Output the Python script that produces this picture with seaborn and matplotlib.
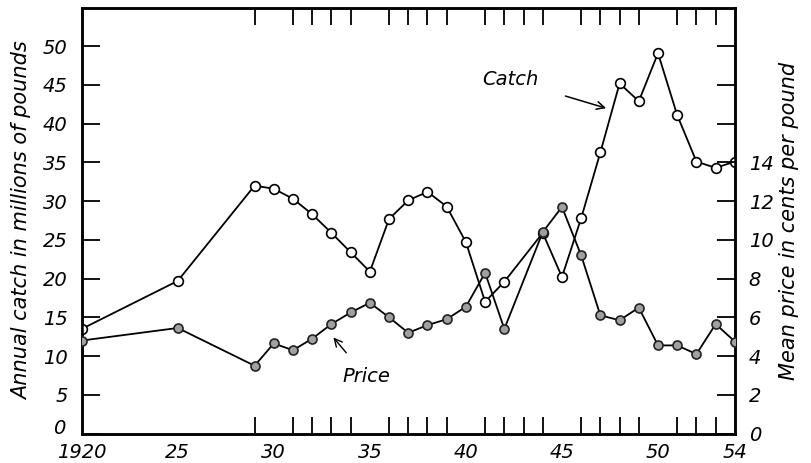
import matplotlib.pyplot as plt
import matplotlib.transforms as mtransforms
import numpy as np
import pandas as pd
import seaborn as sns

# years (no 1943 record, 1921-24 and 1926-28 missing)
years = [1920, 1925, 1929, 1930, 1931, 1932, 1933, 1934, 1935, 1936, 1937, 1938,
         1939, 1940, 1941, 1942, 1944, 1945, 1946, 1947, 1948, 1949, 1950, 1951,
         1952, 1953, 1954]
catch = [13.5, 19.7, 32.0, 31.6, 30.3, 28.3, 25.9, 23.4, 20.9, 27.7, 30.1, 31.2,
         29.3, 24.7, 17.0, 19.6, 25.9, 20.2, 27.8, 36.3, 45.2, 42.9, 49.1, 41.1,
         35.1, 34.3, 35.1]
price = [4.8, 5.45, 3.5, 4.65, 4.3, 4.9, 5.65, 6.25, 6.75, 6.0, 5.2, 5.6,
         5.9, 6.55, 8.3, 5.4, 10.4, 11.7, 9.2, 6.1, 5.85, 6.5, 4.55, 4.55,
         4.1, 5.65, 4.75]

xtick_pos = [1920, 1925, 1930, 1935, 1940, 1945, 1950, 1954]
xtick_lab = ["1920", "25", "30", "35", "40", "45", "50", "54"]
year_marks = [1925] + list(range(1929, 1954))

df = pd.DataFrame({"year": years, "catch": catch, "price": price})

sns.set_style("ticks")
plt.rcParams["font.family"] = ["DejaVu Sans"]
plt.rcParams["font.style"] = "italic"
plt.rcParams["text.color"] = "black"
plt.rcParams["axes.labelcolor"] = "black"
plt.rcParams["xtick.color"] = "black"
plt.rcParams["ytick.color"] = "black"
plt.rcParams["axes.edgecolor"] = "black"

fig = plt.figure(figsize=(8.12, 4.63), dpi=100)
ax = fig.add_axes([0.1006, 0.0637, 0.8044, 0.9201])
ax2 = ax.twinx()

sns.lineplot(data=df, x="year", y="catch", ax=ax, color="black", lw=1.3,
             marker="o", markersize=7, markerfacecolor="white",
             markeredgecolor="black", markeredgewidth=1.2, zorder=3)
sns.lineplot(data=df, x="year", y="price", ax=ax2, color="black", lw=1.3,
             marker="o", markersize=6.5, markerfacecolor="#a0a0a0",
             markeredgecolor="#222222", markeredgewidth=1.2, zorder=3)

ax.set_xlim(1920, 1954)
ax.set_ylim(0, 55)
ax2.set_ylim(0, 22)

ax.set_xticks(xtick_pos)
ax.set_xticklabels(xtick_lab, fontsize=14, style="italic")
ax.set_xticks(year_marks, minor=True)
ax.tick_params(axis="x", which="major", length=0, pad=7)
ax.tick_params(axis="x", which="minor", direction="in", length=12, width=1.3,
               top=True, bottom=True)

ax.set_yticks(range(0, 55, 5))
ax.set_yticklabels([str(v) for v in range(0, 55, 5)], fontsize=14, style="italic")
ax.tick_params(axis="y", which="major", direction="in", length=13, width=1.3, pad=10)

ax2.set_yticks(range(0, 22, 2))
ax2.set_yticklabels([str(v) if v <= 14 else "" for v in range(0, 22, 2)],
                    fontsize=14, style="italic")
ax2.tick_params(axis="y", direction="in", length=13, width=1.3, pad=10)

# lift the two zero labels a little, as in the original lettering
lift = mtransforms.ScaledTranslation(-2 / 72, 5 / 72, fig.dpi_scale_trans)
ax.get_yticklabels()[0].set_transform(ax.get_yticklabels()[0].get_transform() + lift)

ax.set_xlabel("")
ax.set_ylabel("Annual catch in millions of pounds", fontsize=15, style="italic",
              labelpad=8)
ax2.set_ylabel("Mean price in cents per pound", fontsize=15, style="italic",
               labelpad=4)

for a in (ax, ax2):
    for s in a.spines.values():
        s.set_linewidth(1.8)
        s.set_visible(True)
        s.set_color("black")

ax.annotate("Catch", xy=(1947.3, 42.0), xytext=(1942.3, 45.7), fontsize=14,
            style="italic", ha="center", va="center",
            arrowprops=dict(arrowstyle="->", color="black", lw=1.1,
                            shrinkA=18, shrinkB=0))
ax.annotate("Price", xy=(1933.1, 12.4), xytext=(1934.8, 7.4), fontsize=14,
            style="italic", ha="center", va="center",
            arrowprops=dict(arrowstyle="->", color="black", lw=1.0,
                            shrinkA=10, shrinkB=0))

fig.savefig("out.png", dpi=100)
